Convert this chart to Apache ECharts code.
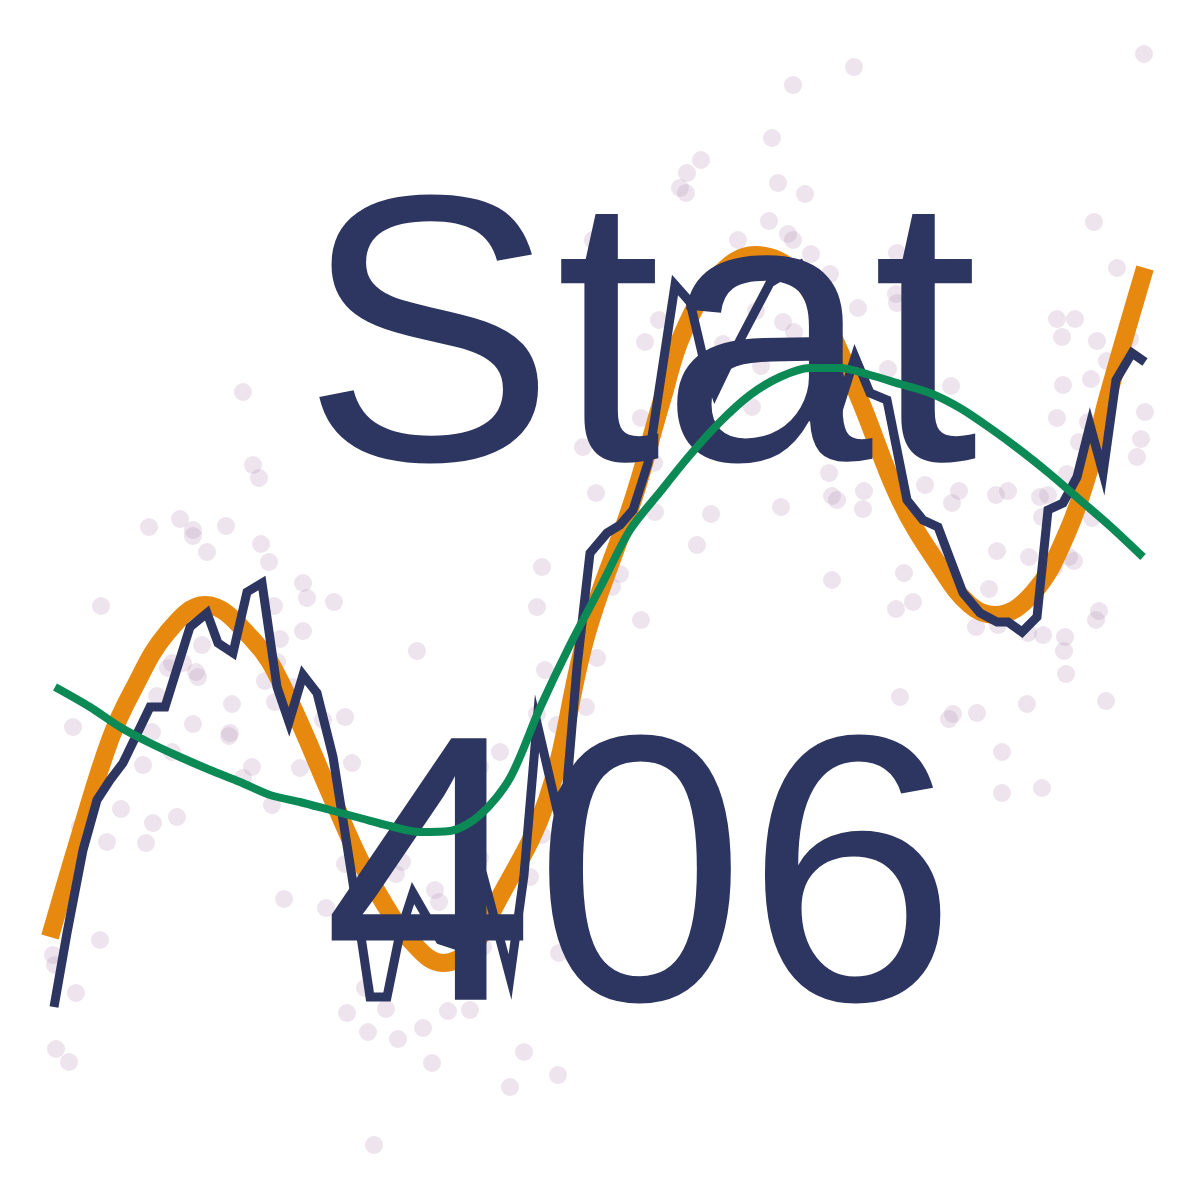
<!DOCTYPE html>
<html>
<head>
<meta charset="utf-8">
<script src="https://cdn.jsdelivr.net/npm/echarts@6/dist/echarts.min.js"></script>
<style>
html,body{margin:0;padding:0;background:#fff;}
#chart{width:1200px;height:1200px;}
</style>
</head>
<body>
<div id="chart"></div>
<script>
// Title words
var titleLines = ["Stat", "406"];

// Scatter observations [x, y]
var scatterPoints = [
[11.44,5.46],[8.54,5.33],[7.93,5.15],[7.72,4.62],[7.01,4.40],[6.87,4.27],[6.80,4.12],[6.86,4.07],
[7.78,4.17],[8.05,4.06],[7.69,3.79],[7.38,3.60],[7.88,3.66],[7.93,3.60],[8.11,3.46],[8.30,3.26],
[8.97,3.47],[8.96,3.06],[8.97,2.97],[8.58,2.92],[10.94,3.78],[11.17,3.32],[10.57,2.81],[10.75,2.81],
[10.62,2.63],[10.97,2.59],[11.30,2.61],[11.07,2.39],[10.63,2.15],[10.91,2.21],[8.88,2.31],[9.51,2.14],
[5.93,3.60],[6.59,2.80],[6.45,2.58],[7.23,2.56],[7.56,2.89],[7.83,2.78],[7.94,2.68],[7.61,2.34],
[7.52,1.93],[2.43,2.08],[6.41,1.82],[5.83,1.53],[6.54,1.37],[5.96,1.07],[6.55,0.88],[7.11,0.86],
[7.81,0.93],[6.97,0.55],[5.42,0.33],[6.20,0.26],[6.12,0.13],[5.37,-0.07],[6.41,-0.20],[4.17,-0.51],
[5.97,-0.58],[5.45,-0.70],[5.86,-1.07],[5.37,-1.14],[5.57,-1.25],[5.00,-1.52],[4.80,-1.67],
[11.45,1.88],[10.57,1.82],[10.88,1.78],[10.79,1.58],[11.41,1.61],[11.37,1.43],[10.67,1.26],[8.29,1.27],
[8.32,1.04],[8.37,1.00],[8.64,1.09],[8.63,0.91],[9.25,1.15],[9.59,1.09],[9.52,0.97],[9.96,1.05],
[10.08,1.09],[10.40,1.03],[10.48,1.05],[10.42,0.83],[10.92,0.82],[9.97,0.49],[10.29,0.43],[10.69,0.43],
[10.74,0.39],[10.54,0.32],[9.42,0.48],[8.32,0.20],[9.04,0.27],[9.89,0.11],[9.13,-0.02],[8.96,-0.09],
[10.99,-0.11],[10.96,-0.20],[9.76,-0.27],[9.98,-0.25],[10.28,-0.33],[10.43,-0.35],[10.65,-0.37],[10.64,-0.51],
[10.66,-0.74],[9.00,-0.97],[9.53,-1.14],[9.49,-1.19],[9.77,-1.13],[10.27,-1.04],[11.06,-1.01],[10.02,-1.52],
[10.02,-1.93],[10.42,-1.88],
[2.53,1.35],[2.59,1.22],[1.49,0.73],[1.80,0.81],[1.93,0.70],[1.93,0.64],[2.07,0.48],[2.26,0.74],
[2.61,0.56],[2.69,0.38],[3.03,0.17],[3.07,0.02],[3.34,-0.02],[1.01,-0.06],[2.74,-0.06],[2.80,-0.39],
[3.03,-0.31],[2.02,-0.45],[1.72,-0.63],[1.83,-0.63],[1.68,-0.68],[1.96,-0.72],[1.98,-0.77],[2.77,-0.62],
[2.65,-0.81],[2.93,-0.87],[2.75,-1.02],[2.32,-1.04],[1.57,-0.96],[1.52,-1.32],[1.93,-1.24],[2.30,-1.33],
[2.29,-1.36],[0.73,-1.27],[3.23,-1.20],[3.45,-1.17],[1.72,-1.52],[1.43,-1.65],[2.52,-1.67],[2.43,-1.78],
[3.00,-1.68],[3.52,-1.63],[1.21,-2.09],[1.53,-2.23],[1.77,-2.17],[1.07,-2.42],[1.46,-2.43],[0.80,-2.27],
[1.00,-3.40],[0.53,-3.55],[0.55,-3.65],[0.76,-3.93],[0.56,-4.49],[0.69,-4.62],[3.74,-5.45],[2.84,-2.99],
[3.26,-3.08],[3.45,-2.64],[3.96,-2.74],[4.02,-2.62],[3.65,-3.88],[3.47,-4.13],[3.86,-4.09],[3.68,-4.32],
[3.98,-4.39],[2.72,-2.05],[4.35,-2.90],[4.39,-3.02],[4.80,-2.58],[5.42,-2.35],[5.30,-2.77],[4.83,-3.47],
[5.59,-3.53],[4.48,-4.11],[4.70,-4.10],[4.23,-4.28],[4.32,-4.63],[5.24,-4.52],[5.58,-4.75],[5.10,-4.87]
];

// True curve (orange)
var trueCurve = [
[0.50,-3.37],[0.80,-2.35],[1.10,-1.40],[1.33,-0.90],[1.67,-0.33],[2.05,-0.05],[2.53,-0.40],[2.83,-0.87],
[3.33,-2.00],[3.60,-2.60],[3.85,-3.05],[4.10,-3.40],[4.43,-3.63],[4.70,-3.50],[4.93,-3.10],[5.47,-2.00],
[5.87,-0.33],[6.33,1.00],[6.62,2.00],[6.83,2.67],[7.17,3.23],[7.55,3.45],[7.90,3.32],[8.20,2.90],
[8.60,2.00],[9.00,1.00],[9.40,0.33],[9.70,-0.05],[9.95,-0.15],[10.33,0.07],[10.67,0.67],[10.93,1.43],
[11.07,2.00],[11.45,3.32]
];

// Wiggly fit (navy)
var roughFit = [
[0.54,-4.07],[0.67,-3.33],[0.83,-2.50],[0.97,-2.00],[1.10,-1.80],[1.23,-1.63],[1.50,-1.07],[1.65,-1.07],
[1.90,-0.27],[2.07,-0.13],[2.18,-0.43],[2.33,-0.53],[2.47,0.08],[2.62,0.17],[2.77,-0.87],[2.89,-1.22],
[3.03,-0.75],[3.17,-0.93],[3.33,-1.57],[3.53,-2.83],[3.70,-3.97],[3.87,-3.97],[4.00,-3.33],[4.13,-2.93],
[4.40,-3.40],[4.55,-3.45],[4.70,-3.10],[4.85,-2.83],[5.10,-3.77],[5.24,-2.75],[5.37,-1.23],[5.56,-2.05],
[5.67,-1.85],[5.77,-0.67],[5.90,0.47],[6.07,0.67],[6.20,0.75],[6.33,0.90],[6.48,1.37],[6.75,3.15],
[6.90,2.98],[7.02,2.47],[7.15,2.08],[7.40,2.60],[7.70,3.17],[8.00,3.35],[8.30,2.70],[8.43,2.05],
[8.55,2.43],[8.70,2.07],[8.87,2.00],[9.07,1.00],[9.23,0.80],[9.38,0.73],[9.63,0.07],[9.80,-0.13],
[9.97,-0.22],[10.08,-0.22],[10.22,-0.32],[10.37,-0.17],[10.48,0.90],[10.63,0.97],[10.77,1.23],[10.90,1.75],
[11.03,1.27],[11.16,2.20],[11.32,2.47],[11.45,2.38]
];

// Smooth fit (green)
var smoothFit = [
[0.55,-0.87],[0.90,-1.07],[1.20,-1.27],[1.50,-1.43],[1.80,-1.57],[2.10,-1.70],[2.40,-1.82],[2.70,-1.95],
[3.00,-2.02],[3.30,-2.10],[3.60,-2.18],[3.90,-2.26],[4.20,-2.32],[4.50,-2.31],[4.80,-2.15],[5.10,-1.78],
[5.40,-1.08],[5.70,-0.45],[6.00,0.12],[6.30,0.70],[6.60,1.08],[6.90,1.45],[7.20,1.78],[7.50,2.05],
[7.80,2.23],[8.10,2.32],[8.40,2.32],[8.70,2.25],[9.00,2.16],[9.30,2.07],[9.60,1.92],[9.90,1.72],
[10.20,1.50],[10.50,1.26],[10.80,1.00],[11.10,0.74],[11.43,0.43]
];

var navy = '#2D3561';
var chart = echarts.init(document.getElementById('chart'));
chart.setOption({
  animation: false,
  backgroundColor: '#ffffff',
  grid: {left: 0, right: 0, top: 0, bottom: 0},
  xAxis: {type: 'value', min: 0, max: 12, show: false},
  yAxis: {type: 'value', min: -6, max: 6, show: false},
  graphic: [
    {type: 'text', z: 3, x: 640, y: 355,
     style: {text: titleLines[0], font: '380px "Liberation Sans", Arial, sans-serif', fill: navy, align: 'center', verticalAlign: 'middle'}},
    {type: 'text', z: 3, x: 640, y: 895,
     style: {text: titleLines[1], font: '380px "Liberation Sans", Arial, sans-serif', fill: navy, align: 'center', verticalAlign: 'middle'}}
  ],
  series: [
    {type: 'scatter', z: 1, data: scatterPoints, symbolSize: 18,
     itemStyle: {color: 'rgba(185,150,185,0.32)'}, silent: true},
    {type: 'line', z: 2, data: trueCurve, smooth: 0.4, showSymbol: false,
     lineStyle: {color: '#E8890F', width: 18, cap: 'butt'}},
    {type: 'line', z: 4, data: roughFit, smooth: false, showSymbol: false,
     lineStyle: {color: navy, width: 9, join: 'miter', cap: 'butt'}},
    {type: 'line', z: 5, data: smoothFit, smooth: 0.3, showSymbol: false,
     lineStyle: {color: '#0B8A55', width: 8, cap: 'butt'}}
  ]
});
</script>
</body>
</html>
